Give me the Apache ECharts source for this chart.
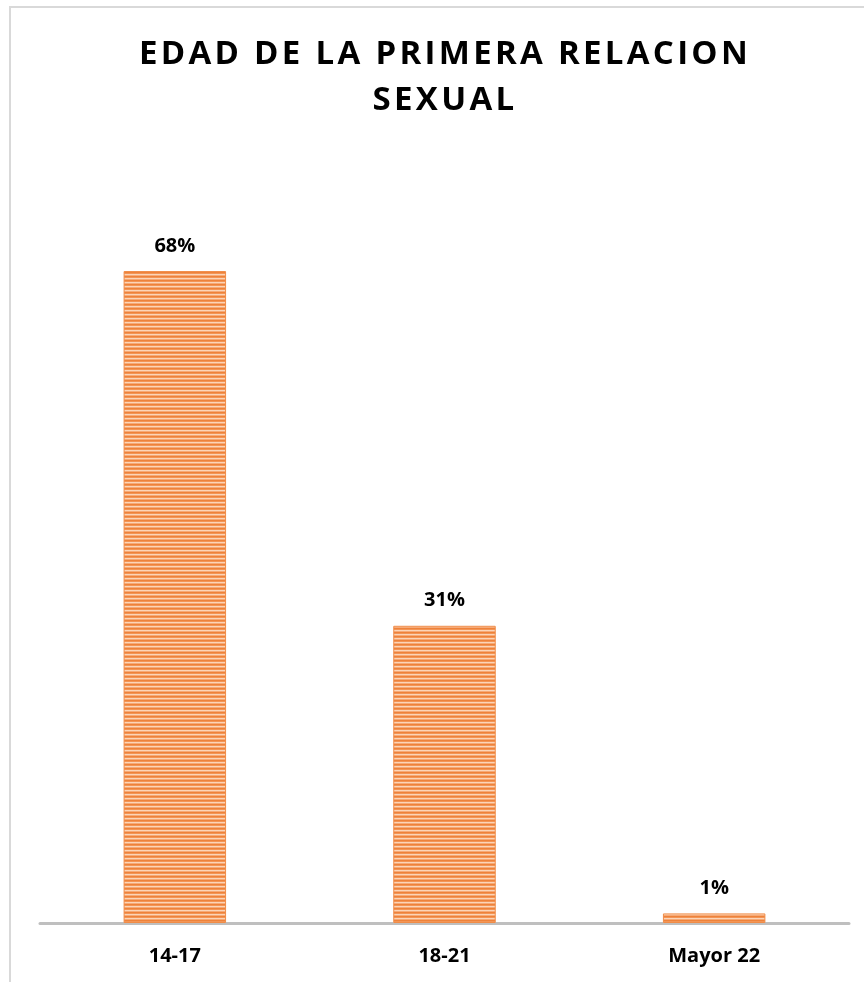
<!DOCTYPE html>
<html>
<head>
<meta charset="utf-8">
<style>
  html, body { margin: 0; padding: 0; background: #ffffff; }
  #wrap { position: relative; width: 864px; height: 982px; }
  #chart { width: 864px; height: 982px; }
  #title {
    position: absolute; left: 8px; top: 29px; width: 874px;
    text-align: center;
    font-family: "Open Sans", "Liberation Sans", sans-serif;
    font-weight: bold; font-size: 33px; line-height: 46px;
    letter-spacing: 3.3px; color: #000000;
    pointer-events: none;
  }
</style>
<script src="https://cdn.jsdelivr.net/npm/echarts@6/dist/echarts.min.js"></script>
</head>
<body>
<div id="wrap">
  <div id="chart"></div>
  <div id="title"></div>
</div>
<script>
// Age ranges and share of respondents (%)
const categories = ['14-17', '18-21', 'Mayor 22'];
const shares = [68, 31, 1];
const titleLines = ['EDAD DE LA PRIMERA RELACION', 'SEXUAL'];

// Title is set as HTML so it can use letter spacing
const titleEl = document.getElementById('title');
titleLines.forEach((line, i) => {
  if (i) titleEl.appendChild(document.createElement('br'));
  titleEl.appendChild(document.createTextNode(line));
});

// Horizontal striped fill for the bars
function stripePattern() {
  const c = document.createElement('canvas');
  c.width = 4; c.height = 4;
  const ctx = c.getContext('2d');
  const rows = ['#ee823a', '#f39556', '#fbd5b8', '#f6aa77'];
  rows.forEach((col, i) => { ctx.fillStyle = col; ctx.fillRect(0, i, 4, 1); });
  return c;
}

const chart = echarts.init(document.getElementById('chart'), null, { renderer: 'canvas' });
const font = '"Open Sans", "Liberation Sans", sans-serif';

chart.setOption({
  backgroundColor: '#ffffff',
  animation: false,
  graphic: [{
    type: 'rect',
    shape: { x: 10, y: 7, width: 900, height: 1000 },
    style: { fill: 'none', stroke: '#d9d9d9', lineWidth: 2 },
    silent: true,
    z: -1
  }],
  grid: { left: 40, right: 15, top: 156, bottom: 59, containLabel: false },
  xAxis: {
    type: 'category',
    data: categories,
    axisLine: { show: true, lineStyle: { color: '#bfbfbf', width: 3 } },
    axisTick: { show: false },
    axisLabel: {
      margin: 23,
      fontFamily: font,
      fontWeight: 'bold',
      fontSize: 20,
      color: '#000000'
    }
  },
  yAxis: {
    type: 'value',
    min: 0,
    max: 80,
    show: false,
    splitLine: { show: false }
  },
  series: [{
    type: 'bar',
    data: shares,
    barWidth: '38%',
    itemStyle: {
      color: { image: stripePattern(), repeat: 'repeat' },
      borderColor: '#f08c48',
      borderWidth: 1
    },
    label: {
      show: true,
      position: 'top',
      distance: 15,
      formatter: p => p.value + '%',
      fontFamily: font,
      fontWeight: 'bold',
      fontSize: 20,
      color: '#000000'
    }
  }]
});
</script>
</body>
</html>
